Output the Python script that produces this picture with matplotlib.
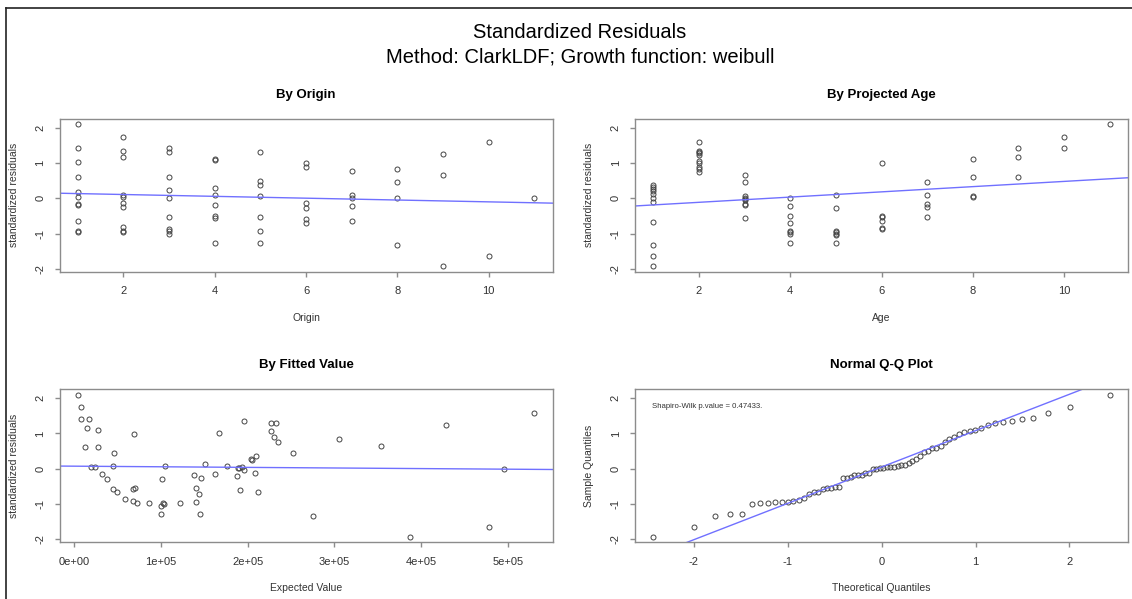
import numpy as np
import matplotlib.pyplot as plt
from matplotlib.lines import Line2D
from statistics import NormalDist

plt.rcParams['font.family'] = ['Liberation Sans', 'DejaVu Sans']
plt.rcParams['axes.unicode_minus'] = False

# standardized residuals grouped by origin period
origins = [1, 2, 3, 4, 5, 6, 7, 8, 9, 10, 11]
resid_by_origin = [
    [2.09, 1.41, 1.03, 0.60, 0.17, 0.04, -0.17, -0.19, -0.65, -0.93, -0.97],
    [1.74, 1.35, 1.16, 0.08, 0.04, -0.13, -0.26, -0.82, -0.93, -0.97],
    [1.43, 1.32, 0.60, 0.23, 0.01, -0.54, -0.87, -0.92, -1.00],
    [1.10, 1.08, 0.28, 0.10, -0.19, -0.51, -0.55, -1.28],
    [1.30, 0.49, 0.37, 0.05, -0.52, -0.93, -1.28],
    [0.99, 0.89, -0.13, -0.27, -0.58, -0.70],
    [0.77, 0.10, 0.00, -0.22, -0.65],
    [0.83, 0.47, 0.02, -1.33],
    [1.25, 0.65, -1.92],
    [1.58, -1.64],
    [0.00],
]

# same residuals grouped by projected age
ages = [1, 2, 3, 4, 5, 6, 7, 8, 9, 10, 11]
resid_by_age = [
    [0.37, 0.32, 0.27, 0.20, 0.12, 0.02, -0.12, -0.67, -1.33, -1.63, -1.91],
    [1.58, 1.35, 1.30, 1.27, 1.22, 1.05, 0.99, 0.87, 0.82, 0.75],
    [0.65, 0.47, 0.06, 0.02, -0.01, -0.05, -0.15, -0.19, -0.57],
    [0.02, -0.22, -0.51, -0.71, -0.93, -0.97, -1.00, -1.28],
    [0.10, -0.29, -0.93, -0.97, -1.00, -1.03, -1.28],
    [0.99, -0.51, -0.54, -0.64, -0.84, -0.87],
    [0.47, 0.09, -0.15, -0.26, -0.54],
    [1.10, 0.61, 0.06, 0.03],
    [1.41, 1.16, 0.61],
    [1.74, 1.41],
    [2.09],
]

# expected (fitted) values and their residuals
expected = [4600, 8800, 8000, 17700, 15400, 28400, 13000, 28400, 20300, 24600,
            33000, 38400, 46000, 45000, 45000, 50000, 58700, 69000, 70000, 68300,
            68000, 73300, 86800, 100000, 100600, 101700, 103000, 104400, 103600, 121700,
            138000, 141000, 141000, 143600, 145000, 146600, 150500, 162400, 166600, 176600,
            187300, 188500, 190000, 190800, 193500, 195800, 195400, 204600, 204000, 208400,
            210000, 212000, 226500, 233000, 227000, 230000, 235000, 252000, 305000, 275000,
            354000, 387000, 428000, 478000, 495000, 530000]
expected_resid = [2.10, 1.75, 1.42, 1.42, 1.16, 1.10, 0.61, 0.61, 0.04, 0.04,
                  -0.16, -0.30, 0.46, 0.09, -0.56, -0.66, -0.85, 0.98, -0.53, -0.57,
                  -0.90, -0.96, -0.98, -1.29, -1.04, -0.30, -0.97, 0.09, -0.99, -0.96,
                  -0.19, -0.53, -0.94, -0.70, -1.29, -0.25, 0.13, -0.15, 1.02, 0.08,
                  -0.21, 0.02, 0.02, -0.61, 0.06, -0.04, 1.34, 0.25, 0.27, -0.13,
                  0.36, -0.66, 1.30, 1.30, 1.08, 0.89, 0.77, 0.46, 0.83, -1.34,
                  0.65, -1.92, 1.25, -1.66, 0.00, 1.58]

# fitted trend lines (intercept, slope) and shapiro-wilk p value
origin_fit = (0.157, -0.026)
age_fit = (-0.264, 0.074)
expected_fit = (0.074, -0.0171e-5)
qq_fit = (0.05, 1.03)
shapiro_p = 0.47433

BLUE = '#7070ff'
GRAY = '#8c8c8c'


def pad_range(v):
    lo, hi = min(v), max(v)
    r = hi - lo
    return lo - 0.04 * r, hi + 0.04 * r


def style_axes(ax):
    for s in ax.spines.values():
        s.set_color(GRAY)
        s.set_linewidth(1.0)
    ax.tick_params(direction='out', length=3.8, width=1.0, color=GRAY,
                   labelsize=8, labelcolor='#333333', pad=6.5)
    for lab in ax.get_yticklabels():
        lab.set_rotation(90)
        lab.set_va('center')


def points(ax, x, y):
    ax.plot(x, y, 'o', ms=3.6, mfc='none', mec='#444444', mew=0.7, ls='none')


def trend(ax, fit, xlim):
    xs = np.array(xlim)
    ax.plot(xs, fit[0] + fit[1] * xs, color=BLUE, lw=1.0)


fig = plt.figure(figsize=(11.32, 5.99), dpi=100)

all_resid = [r for grp in resid_by_origin for r in grp]
ylim = pad_range(all_resid)

w, h = 0.4355, 0.2554
ax1 = fig.add_axes([0.0526, 0.5464, w, h])
ax2 = fig.add_axes([0.561, 0.5464, w, h])
ax3 = fig.add_axes([0.0526, 0.0947, w, h])
ax4 = fig.add_axes([0.561, 0.0947, w, h])

# by origin
ox = [o for o, grp in zip(origins, resid_by_origin) for _ in grp]
xlim = pad_range(origins)
points(ax1, ox, all_resid)
trend(ax1, origin_fit, xlim)
ax1.set_xlim(xlim)
ax1.set_xticks([2, 4, 6, 8, 10])
ax1.set_title('By Origin', fontsize=9.5, fontweight='bold', pad=15)
ax1.set_xlabel('Origin', fontsize=7.5, color='#333333', labelpad=12)
ax1.set_ylabel('standardized residuals', fontsize=7.5, color='#333333', labelpad=12)

# by projected age
ax_ = [a for a, grp in zip(ages, resid_by_age) for _ in grp]
ay = [r for grp in resid_by_age for r in grp]
points(ax2, ax_, ay)
trend(ax2, age_fit, xlim)
ax2.set_xlim(xlim)
ax2.set_xticks([2, 4, 6, 8, 10])
ax2.set_title('By Projected Age', fontsize=9.5, fontweight='bold', pad=15)
ax2.set_xlabel('Age', fontsize=7.5, color='#333333', labelpad=12)
ax2.set_ylabel('standardized residuals', fontsize=7.5, color='#333333', labelpad=12)

# by fitted value
exlim = pad_range(expected)
points(ax3, expected, expected_resid)
trend(ax3, expected_fit, exlim)
ax3.set_xlim(exlim)
ax3.set_xticks([0, 1e5, 2e5, 3e5, 4e5, 5e5])
ax3.set_xticklabels(['0e+00', '1e+05', '2e+05', '3e+05', '4e+05', '5e+05'])
ax3.set_title('By Fitted Value', fontsize=9.5, fontweight='bold', pad=15)
ax3.set_xlabel('Expected Value', fontsize=7.5, color='#333333', labelpad=12)
ax3.set_ylabel('standardized residuals', fontsize=7.5, color='#333333', labelpad=12)

# normal q-q
sample = sorted(all_resid)
n = len(sample)
theo = [NormalDist().inv_cdf((i + 0.5) / n) for i in range(n)]
qxlim = pad_range(theo)
points(ax4, theo, sample)
trend(ax4, qq_fit, qxlim)
ax4.set_xlim(qxlim)
ax4.set_xticks([-2, -1, 0, 1, 2])
ax4.text(-2.44, 1.76, 'Shapiro-Wilk p.value = %.5f.' % shapiro_p, fontsize=5.6,
         color='#333333', ha='left', va='center')
ax4.set_title('Normal Q-Q Plot', fontsize=9.5, fontweight='bold', pad=15)
ax4.set_xlabel('Theoretical Quantiles', fontsize=7.5, color='#333333', labelpad=12)
ax4.set_ylabel('Sample Quantiles', fontsize=7.5, color='#333333', labelpad=12)

for ax in (ax1, ax2, ax3, ax4):
    ax.set_ylim(ylim)
    ax.set_yticks([-2, -1, 0, 1, 2])
    style_axes(ax)

fig.text(0.5124, 1 - 33 / 599, 'Standardized Residuals', fontsize=14.5,
         ha='center', va='center')
fig.text(0.5124, 1 - 57 / 599, 'Method: ClarkLDF; Growth function: weibull',
         fontsize=14.5, ha='center', va='center')

# window frame (left and top edge)
fig.add_artist(Line2D([6 / 1132, 6 / 1132], [0, 1 - 8 / 599], color='#222222', lw=1.2))
fig.add_artist(Line2D([6 / 1132, 1], [1 - 8 / 599, 1 - 8 / 599], color='#222222', lw=1.2))

fig.savefig('out.png', dpi=100)
